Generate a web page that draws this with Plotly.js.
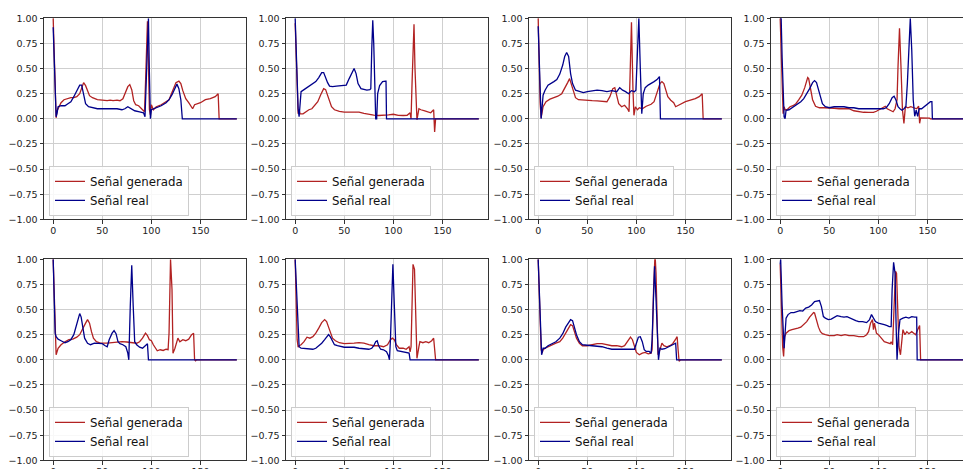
<!DOCTYPE html>
<html><head><meta charset="utf-8">
<script src="https://cdn.plot.ly/plotly-3.0.1.min.js"></script>
<style>html,body{margin:0;padding:0;overflow:hidden;background:#fff;width:963px;height:469px}#chart{width:990px;height:490px}</style>
</head><body><div id="chart"></div><script>
// Series labels
const nameGen = 'Señal generada';
const nameReal = 'Señal real';
// Axis ticks
const xTicks = [0, 50, 100, 150];
const yTicks = [-1, -0.75, -0.5, -0.25, 0, 0.25, 0.5, 0.75, 1];

// Panel data: [sample index, amplitude]
const gen1 = [[0,1.0],[1,0.62],[2,0.25],[3,0.01],[4,0.08],[6,0.13],[8,0.16],[11,0.19],[14,0.2],[18,0.21],[21,0.21],[24,0.22],[27,0.25],[29,0.31],[31,0.36],[33,0.33],[35,0.27],[37,0.23],[40,0.21],[45,0.19],[50,0.185],[55,0.18],[58,0.185],[61,0.18],[65,0.185],[68,0.18],[71,0.2],[74,0.27],[76,0.32],[78,0.34],[80,0.29],[82,0.18],[84,0.14],[87,0.13],[90,0.1],[92,0.08],[93,0.07],[94,0.35],[95,0.8],[96,0.97],[97,0.55],[98,0.09],[99,0.04],[100,0.14],[102,0.09],[105,0.12],[110,0.14],[115,0.17],[118,0.19],[120,0.24],[123,0.32],[125,0.36],[128,0.375],[130,0.35],[132,0.28],[135,0.2],[138,0.16],[140,0.13],[142,0.1],[144,0.14],[147,0.15],[150,0.16],[155,0.19],[160,0.2],[165,0.22],[168,0.25],[169,0],[187,0]];
const real1 = [[0,0.91],[1,0.55],[2,0.2],[3,0.02],[4,0.06],[5,0.12],[8,0.13],[12,0.13],[15,0.15],[18,0.17],[21,0.22],[24,0.285],[27,0.335],[29,0.335],[31,0.25],[33,0.15],[36,0.12],[40,0.11],[45,0.1],[50,0.1],[55,0.1],[60,0.1],[65,0.1],[70,0.09],[73,0.1],[76,0.12],[79,0.1],[83,0.08],[88,0.07],[92,0.06],[93.5,0.02],[95,0.4],[96,0.8],[97,1.0],[98,0.45],[99,0.0],[100,0.09],[103,0.1],[106,0.11],[110,0.13],[115,0.16],[118,0.19],[121,0.24],[124,0.31],[126,0.345],[128,0.3],[130,0.19],[131.5,0],[187,0]];
const gen2 = [[0,0.95],[1,0.55],[2,0.2],[3,0.05],[4,0.09],[5,0.05],[8,0.05],[11,0.07],[14,0.09],[17,0.1],[20,0.13],[23,0.17],[26,0.24],[29,0.3],[31,0.29],[34,0.2],[37,0.12],[40,0.09],[45,0.073],[50,0.066],[55,0.068],[60,0.07],[65,0.066],[70,0.053],[75,0.043],[80,0.036],[85,0.033],[90,0.033],[95,0.04],[100,0.045],[105,0.035],[110,0.033],[114,0.035],[117,0.06],[118,0.0],[119,0.35],[120,0.75],[121,0.94],[122,0.5],[123,0.09],[124,-0.01],[126,0.1],[128,0.09],[132,0.08],[135,0.07],[138,0.06],[141,0.09],[142,-0.13],[143,0],[187,0]];
const real2 = [[0,1.0],[1,0.7],[2,0.35],[3,0.1],[4,0.02],[5,0.19],[6,0.27],[9,0.29],[12,0.31],[15,0.325],[18,0.345],[21,0.37],[24,0.41],[27,0.46],[29,0.46],[31,0.4],[33,0.36],[35,0.325],[38,0.32],[42,0.325],[46,0.33],[50,0.335],[52,0.335],[55,0.4],[58,0.46],[60,0.5],[62,0.45],[64,0.35],[67,0.3],[70,0.29],[73,0.285],[76,0.29],[77,0.3],[78,0.7],[79,0.98],[80,0.75],[81,0.35],[82,0.0],[83,0.0],[84,0.25],[86,0.33],[89,0.37],[92,0.375],[92.5,0.375],[93,0],[187,0]];
const gen3 = [[0,1.0],[1,0.55],[2,0.15],[3,0.01],[5,0.12],[8,0.17],[12,0.195],[16,0.21],[20,0.225],[24,0.25],[27,0.3],[30,0.36],[32,0.4],[34,0.335],[36,0.25],[38,0.21],[41,0.19],[45,0.185],[50,0.18],[55,0.18],[60,0.178],[65,0.175],[70,0.17],[73,0.22],[76,0.3],[78,0.31],[80,0.22],[82,0.15],[85,0.12],[88,0.135],[91,0.1],[92.5,0.07],[93.5,0.4],[95,0.96],[96.5,0.3],[97.5,0.035],[99,0.12],[101,0.09],[103,0.11],[106,0.1],[110,0.125],[115,0.145],[118,0.17],[120,0.235],[122,0.3],[124,0.35],[126,0.37],[128,0.35],[130,0.285],[132,0.22],[135,0.185],[138,0.16],[140,0.12],[142,0.13],[145,0.15],[150,0.17],[155,0.185],[160,0.2],[164,0.22],[167,0.25],[168,0],[187,0]];
const real3 = [[0,0.92],[1,0.55],[2,0.2],[3,0.0],[5,0.235],[7,0.285],[10,0.335],[13,0.35],[16,0.37],[19,0.39],[22,0.445],[25,0.535],[27,0.62],[29,0.66],[31,0.62],[33,0.45],[35,0.35],[38,0.285],[42,0.27],[46,0.26],[50,0.27],[55,0.28],[60,0.285],[65,0.28],[70,0.27],[75,0.28],[80,0.27],[83,0.31],[86,0.285],[89,0.27],[92,0.25],[95,0.28],[98,0.27],[99.5,0.285],[101,0.6],[102.5,1.0],[104,0.5],[105.5,0.05],[107,0.25],[109,0.31],[112,0.335],[115,0.35],[118,0.37],[121,0.39],[123.5,0.42],[124.5,0],[187,0]];
const gen4 = [[0,1.0],[1,0.6],[2,0.2],[3,0.05],[4,0.12],[5,0.09],[7,0.09],[10,0.12],[13,0.13],[16,0.15],[19,0.19],[22,0.235],[25,0.31],[28,0.41],[29,0.4],[31,0.285],[33,0.19],[36,0.125],[40,0.11],[45,0.11],[50,0.11],[55,0.105],[60,0.1],[65,0.1],[70,0.1],[75,0.08],[80,0.07],[85,0.065],[90,0.063],[95,0.063],[98,0.075],[101,0.09],[104,0.11],[107,0.125],[109,0.1],[112,0.085],[115,0.07],[117,0.1],[119,0.19],[120,0.52],[121.5,0.9],[123,0.52],[124.5,0.09],[126,-0.045],[127.5,0.12],[130,0.11],[133,0.12],[136,0.11],[139,0.1],[141,0.125],[142,-0.045],[143,0.01],[147,0.01],[152,0.007],[153,0],[187,0]];
const real4 = [[0,1.0],[1,1.0],[2,0.6],[3,0.2],[4,0.02],[5,0.0],[6,0.085],[9,0.09],[12,0.11],[15,0.125],[18,0.145],[21,0.17],[24,0.2],[27,0.245],[30,0.3],[33,0.36],[35,0.38],[37,0.36],[39,0.285],[41,0.2],[43,0.15],[46,0.12],[50,0.11],[55,0.12],[60,0.12],[65,0.12],[70,0.11],[75,0.11],[80,0.1],[85,0.1],[90,0.097],[95,0.093],[100,0.093],[105,0.1],[108,0.11],[111,0.15],[114,0.21],[116,0.225],[118,0.185],[120,0.12],[122,0.1],[124,0.085],[126,0.1],[128,0.12],[129.5,0.35],[131,0.78],[132.5,1.0],[134,0.68],[135.5,0.185],[137,0.025],[138.5,0.085],[140,0.025],[141.5,0.1],[144,0.1],[147,0.125],[150,0.145],[153,0.17],[154.5,0.17],[155,0],[187,0]];
const gen5 = [[0,1.0],[1,0.6],[2,0.2],[3,0.05],[5,0.115],[8,0.15],[12,0.18],[16,0.2],[20,0.205],[24,0.225],[27,0.25],[30,0.3],[33,0.365],[35,0.4],[37,0.365],[39,0.28],[41,0.215],[44,0.18],[48,0.165],[55,0.165],[60,0.17],[65,0.17],[70,0.18],[75,0.177],[80,0.17],[85,0.165],[88,0.18],[91,0.215],[94,0.265],[96,0.24],[98,0.2],[100,0.19],[102,0.15],[104,0.115],[106,0.09],[109,0.1],[112,0.093],[115,0.105],[117,0.1],[118,0.27],[119.5,1.0],[121,0.7],[122,0.066],[124,0.115],[126,0.18],[127,0.215],[129,0.18],[132,0.2],[135,0.19],[138,0.205],[141,0.25],[143,0.265],[144,0],[145,-0.01],[146,0],[187,0]];
const real5 = [[0,1.0],[1,0.7],[2,0.265],[3,0.23],[5,0.205],[8,0.19],[12,0.17],[15,0.18],[18,0.2],[21,0.25],[24,0.35],[26,0.425],[27,0.46],[28.5,0.425],[30,0.315],[32,0.215],[35,0.165],[38,0.15],[42,0.165],[47,0.165],[50,0.16],[53,0.14],[55,0.13],[57,0.2],[60,0.265],[62,0.29],[64,0.26],[66,0.18],[68,0.16],[71,0.15],[74,0.13],[76,0.066],[77,0],[78.5,0.53],[80,0.94],[81.5,0.53],[83,0.18],[85,0.15],[88,0.125],[91,0.115],[94,0.14],[96,0.16],[97,0],[187,0]];
const gen6 = [[0,1.0],[1,0.6],[2,0.2],[3,0.125],[4,0.14],[6,0.15],[9,0.18],[12,0.225],[15,0.215],[18,0.23],[21,0.265],[24,0.315],[27,0.37],[30,0.4],[32,0.38],[34,0.325],[36,0.26],[38,0.215],[41,0.19],[45,0.17],[50,0.16],[55,0.16],[60,0.165],[65,0.17],[70,0.165],[75,0.15],[80,0.14],[85,0.14],[90,0.13],[94,0.15],[97,0.2],[99,0.215],[101,0.2],[103,0.15],[106,0.115],[110,0.115],[113,0.105],[116,0.13],[117,0.08],[118,0.13],[119,0.7],[120,0.95],[121.5,0.9],[123,0.37],[124,0.015],[126,0.13],[127,0.18],[130,0.17],[133,0.18],[136,0.17],[139,0.19],[141,0.215],[142,0.066],[143,0],[187,0]];
const real6 = [[0,1.0],[1,0.75],[2,0.46],[3,0.2],[4,0.13],[6,0.115],[9,0.113],[12,0.105],[15,0.105],[18,0.105],[21,0.115],[24,0.14],[27,0.165],[30,0.2],[32,0.23],[34,0.25],[36,0.225],[38,0.18],[40,0.15],[43,0.14],[47,0.13],[50,0.125],[55,0.125],[60,0.125],[65,0.115],[70,0.113],[75,0.105],[78,0.115],[80,0.14],[82,0.18],[83.5,0.19],[85,0.14],[87,0.105],[90,0.1],[93,0.08],[95,0.04],[96,0],[97,0.2],[98.5,0.66],[99.5,0.95],[101,0.53],[102.5,0.13],[104,0.09],[107,0.083],[110,0.083],[113,0.073],[116,0.066],[117,0],[187,0]];
const gen7 = [[0,1.0],[1,0.7],[2,0.365],[3,0.1],[4,0.066],[5,0.1],[7,0.115],[10,0.13],[14,0.15],[18,0.165],[22,0.18],[25,0.215],[28,0.265],[31,0.325],[33,0.35],[35,0.34],[37,0.28],[39,0.215],[42,0.165],[45,0.14],[50,0.14],[55,0.15],[60,0.16],[65,0.16],[70,0.15],[75,0.14],[80,0.14],[85,0.13],[88,0.14],[91,0.18],[94,0.225],[96,0.2],[98,0.13],[100,0.073],[103,0.05],[106,0.066],[109,0.073],[112,0.06],[115,0.066],[116,0.1],[117.5,0.7],[119,1.05],[120,0.86],[121,0.365],[122,0.05],[124,0.1],[126,0.165],[128,0.14],[131,0.13],[134,0.14],[137,0.16],[140,0.205],[141.5,0.23],[142.5,0.1],[143.5,-0.015],[145,0],[187,0]];
const real7 = [[0,1.0],[1,0.7],[2,0.53],[3.5,0.05],[5,0.115],[7,0.115],[10,0.14],[14,0.16],[18,0.18],[22,0.215],[25,0.26],[28,0.325],[31,0.37],[33,0.4],[35,0.39],[37,0.325],[39,0.25],[42,0.18],[45,0.15],[50,0.145],[55,0.14],[60,0.14],[65,0.13],[70,0.115],[75,0.105],[80,0.105],[85,0.105],[90,0.1],[95,0.1],[98,0.105],[100,0.165],[102,0.225],[104,0.23],[106,0.18],[108,0.1],[110,0.083],[113,0.083],[115,0.066],[116,0.2],[117,0.53],[118.5,0.93],[120,0.6],[121.5,0.165],[122.5,0],[124,0.115],[126,0.105],[129,0.11],[132,0.125],[135,0.14],[138,0.15],[140,0.165],[141,0],[187,0]];
const gen8 = [[0,0.95],[1,0.53],[2.5,0.13],[3.5,0.033],[4.5,0.23],[6,0.265],[9,0.29],[12,0.3],[15,0.305],[18,0.315],[21,0.325],[24,0.35],[27,0.38],[30,0.425],[32,0.45],[34,0.47],[35,0.465],[37,0.385],[39,0.325],[41,0.28],[43,0.26],[46,0.25],[50,0.24],[55,0.24],[58,0.25],[62,0.24],[66,0.25],[70,0.24],[75,0.24],[80,0.23],[85,0.23],[88,0.25],[90,0.28],[92,0.365],[94,0.4],[95,0.3],[96,0.365],[98,0.265],[100,0.25],[103,0.215],[106,0.18],[109,0.17],[112,0.16],[113,0.18],[114.5,0.15],[116,0.53],[117.5,0.88],[118.5,0.86],[119.5,0.53],[121,0.13],[122.5,0.05],[124,0.165],[125,0.3],[127,0.25],[129,0.28],[131,0.26],[134,0.28],[136,0.265],[138,0.25],[140,0.3],[142,0.34],[143,0],[187,0]];
const real8 = [[0,0.95],[0.5,1.0],[2,0.53],[3,0.2],[4,0.115],[5,0.265],[6,0.415],[8,0.45],[11,0.47],[14,0.47],[17,0.48],[20,0.49],[23,0.485],[26,0.515],[29,0.525],[32,0.545],[35,0.58],[38,0.585],[40,0.59],[42,0.53],[44,0.43],[46,0.415],[49,0.4],[52,0.405],[55,0.425],[58,0.44],[62,0.43],[65,0.425],[68,0.43],[71,0.415],[74,0.4],[77,0.39],[80,0.38],[84,0.38],[88,0.37],[91,0.4],[93,0.45],[95,0.415],[97,0.38],[100,0.365],[103,0.36],[106,0.35],[109,0.34],[111,0.33],[113,0.33],[114,0.7],[115.5,0.97],[117,0.86],[118,0.365],[119,0],[120.5,0.265],[122,0.4],[125,0.415],[128,0.425],[131,0.415],[134,0.43],[137,0.425],[139,0.425],[139.5,0],[187,0]];

const panels = [[gen1, real1],[gen2, real2],[gen3, real3],[gen4, real4],[gen5, real5],[gen6, real6],[gen7, real7],[gen8, real8]];

// Layout geometry (pixels)
const W = 990, H = 490;
const colLeft = [44, 286, 529, 771], plotW = 202;
const rowTop = [18.3, 259.3], plotH = 201;
const colGen = '#b22222', colReal = '#00008b';

const traces = [];
const layout = {
  width: W, height: H, margin: {l:0, r:0, t:0, b:0},
  paper_bgcolor: '#ffffff', plot_bgcolor: '#ffffff', showlegend: true,
  font: {family: 'DejaVu Sans', size: 9.5, color: '#222'}
};
panels.forEach((p, i) => {
  const r = Math.floor(i / 4), c = i % 4, n = i + 1;
  const sfx = n === 1 ? '' : String(n);
  const x0 = colLeft[c] / W, x1 = (colLeft[c] + plotW) / W;
  const y1 = 1 - rowTop[r] / H, y0 = 1 - (rowTop[r] + plotH) / H;
  const axCommon = {
    showline: true, linecolor: '#333', linewidth: 1, mirror: true,
    ticks: 'outside', ticklen: 3.5, tickwidth: 1, tickcolor: '#333',
    showgrid: true, gridcolor: '#cfcfcf', gridwidth: 1, zeroline: false,
    tickfont: {family: 'DejaVu Sans', size: 9.5, color: '#222'}, fixedrange: true
  };
  layout['xaxis' + sfx] = Object.assign({}, axCommon, {
    domain: [x0, x1], anchor: 'y' + sfx, range: [-9.35, 196.35],
    tickmode: 'array', tickvals: xTicks, ticktext: xTicks.map(String), ticklabelstandoff: -1
  });
  layout['yaxis' + sfx] = Object.assign({}, axCommon, {
    domain: [y0, y1], anchor: 'x' + sfx, range: [-1, 1],
    tickmode: 'array', tickvals: yTicks, ticktext: yTicks.map(v => v.toFixed(2).replace('-', '\u2212'))
  });
  layout['legend' + sfx] = {
    x: (colLeft[c] + 5) / W, y: 1 - (rowTop[r] + plotH - 3.5) / H,
    xanchor: 'left', yanchor: 'bottom', xref: 'paper', yref: 'paper',
    bgcolor: 'rgba(255,255,255,0.85)', bordercolor: '#cccccc', borderwidth: 1,
    font: {family: 'DejaVu Sans', size: 11.8, color: '#111'}, traceorder: 'normal', itemwidth: 30
  };
  [[p[0], nameGen, colGen], [p[1], nameReal, colReal]].forEach(([pts, nm, col]) => {
    traces.push({
      type: 'scatter', mode: 'lines', name: nm,
      x: pts.map(d => d[0]), y: pts.map(d => d[1]),
      xaxis: 'x' + sfx, yaxis: 'y' + sfx, legend: 'legend' + sfx,
      line: {color: col, width: 1.3}, hoverinfo: 'skip', cliponaxis: true
    });
  });
});
Plotly.newPlot('chart', traces, layout, {displayModeBar: false, staticPlot: true});
</script></body></html>
